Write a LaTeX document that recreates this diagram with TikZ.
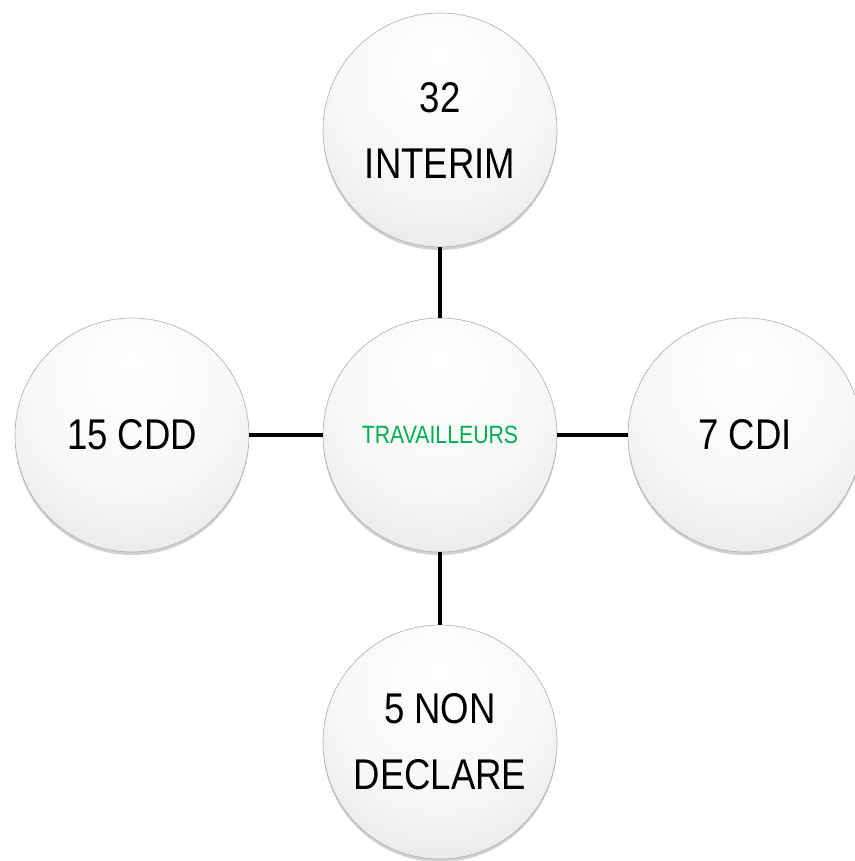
\documentclass[tikz,border=0pt]{standalone}
\usepackage{fontspec}
\setmainfont[FakeStretch=0.85]{Liberation Sans}
\usetikzlibrary{shadows}
\definecolor{officegreen}{RGB}{0,176,80}
\pgfdeclareradialshading{ball}{\pgfpoint{0bp}{16bp}}{%
  color(0bp)=(white);
  color(22bp)=(white!97!black);
  color(38bp)=(white!90!black);
  color(50bp)=(white!84!black);
  color(58bp)=(white!78!black);
  color(64bp)=(white!55!black)}
\tikzset{
  bubble/.style={circle, minimum size=234pt, inner sep=0pt,
    shading=ball, draw=white!68!black, line width=0.6pt,
    drop shadow={shadow xshift=0pt, shadow yshift=-3pt, opacity=0.3, fill=black!60},
    align=center, font=\fontsize{43}{66}\selectfont},
  link/.style={line width=4pt, black}
}
\begin{document}
\begin{tikzpicture}[x=1pt,y=-1pt]
\useasboundingbox (0,0) rectangle (854,861);
\node[bubble] (top) at (440,130) {32\\INTERIM};
\node[bubble] (mid) at (440,435) {};
\node[bubble] (left) at (132,435) {15 CDD};
\node[bubble] (right) at (745,435) {7 CDI};
\node[bubble] (bot) at (440,742) {5 NON\\DECLARE};
\node[font=\fontsize{25}{28}\selectfont, text=officegreen] (lab) at (mid.center) {TRAVAILLEURS};
\draw[link] (top.south) -- (mid.north);
\draw[link] (left.east) -- (mid.west);
\draw[link] (mid.east) -- (right.west);
\draw[link] (mid.south) -- (bot.north);
\end{tikzpicture}
\end{document}
